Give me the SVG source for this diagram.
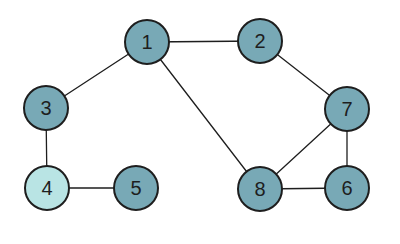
<svg xmlns="http://www.w3.org/2000/svg" width="400" height="244" viewBox="0 0 400 244">
<style>
.e{stroke:#1e1e1e;stroke-width:1.3;fill:none;stroke-linecap:round}
.n{fill:#78a9b6;stroke:#1e1e1e;stroke-width:2}
.l{fill:#b9e4e4}
.t{font-family:"Liberation Sans","DejaVu Sans",sans-serif;font-size:20px;fill:#1e1e1e;text-anchor:middle;dominant-baseline:central}
</style>
<rect width="400" height="244" fill="#ffffff"/>
<g id="edges">
<line class="e" x1="147" y1="42" x2="260" y2="41"/>
<line class="e" x1="147" y1="42" x2="46" y2="108"/>
<line class="e" x1="147" y1="42" x2="260" y2="189"/>
<line class="e" x1="260" y1="41" x2="347" y2="109"/>
<line class="e" x1="347" y1="109" x2="260" y2="189"/>
<line class="e" x1="347" y1="109" x2="347" y2="188"/>
<line class="e" x1="260" y1="189" x2="347" y2="188"/>
<line class="e" x1="46" y1="108" x2="47" y2="188"/>
<line class="e" x1="47" y1="188" x2="136" y2="188"/>
</g>
<g id="n1"><circle class="n" cx="147" cy="42" r="22"/><text class="t" x="147" y="42">1</text></g>
<g id="n2"><circle class="n" cx="260" cy="41" r="22"/><text class="t" x="260" y="41">2</text></g>
<g id="n3"><circle class="n" cx="46" cy="108" r="22"/><text class="t" x="46" y="108">3</text></g>
<g id="n7"><circle class="n" cx="347" cy="109" r="22"/><text class="t" x="347" y="109">7</text></g>
<g id="n4"><circle class="n l" cx="47" cy="188" r="22"/><text class="t" x="47" y="188">4</text></g>
<g id="n5"><circle class="n" cx="136" cy="188" r="22"/><text class="t" x="136" y="188">5</text></g>
<g id="n8"><circle class="n" cx="260" cy="189" r="22"/><text class="t" x="260" y="189">8</text></g>
<g id="n6"><circle class="n" cx="347" cy="188" r="22"/><text class="t" x="347" y="188">6</text></g>
</svg>
